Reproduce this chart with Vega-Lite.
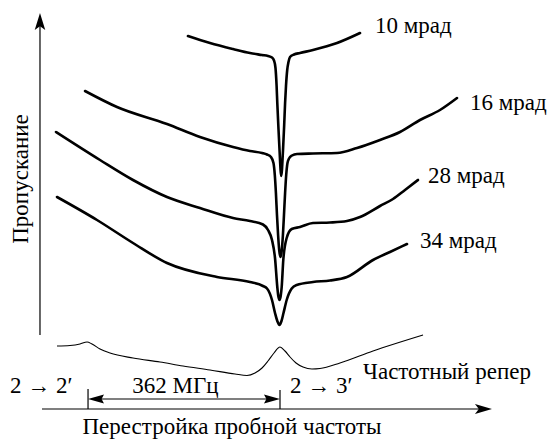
{
  "$schema": "https://vega.github.io/schema/vega-lite/v6.json",
  "width": 560,
  "height": 439,
  "padding": 0,
  "autosize": {"type": "none"},
  "background": "white",
  "config": {"view": {"stroke": null}},
  "datasets": {
    "curves": [
      {"series": "10 мрад", "f": 188.5, "T": 91},
      {"series": "10 мрад", "f": 230.0, "T": 89.25},
      {"series": "10 мрад", "f": 273.4, "T": 87.75},
      {"series": "10 мрад", "f": 305.4, "T": 86.75},
      {"series": "10 мрад", "f": 328.1, "T": 86.25},
      {"series": "10 мрад", "f": 339.4, "T": 86},
      {"series": "10 мрад", "f": 346.9, "T": 85.625},
      {"series": "10 мрад", "f": 350.7, "T": 84.875},
      {"series": "10 мрад", "f": 353.5, "T": 83},
      {"series": "10 мрад", "f": 355.6, "T": 78.5},
      {"series": "10 мрад", "f": 356.9, "T": 74.25},
      {"series": "10 мрад", "f": 358.8, "T": 68.75},
      {"series": "10 мрад", "f": 361.1, "T": 62.5},
      {"series": "10 мрад", "f": 364.3, "T": 56},
      {"series": "10 мрад", "f": 367.7, "T": 62.5},
      {"series": "10 мрад", "f": 369.9, "T": 68.75},
      {"series": "10 мрад", "f": 371.6, "T": 74.25},
      {"series": "10 мрад", "f": 373.3, "T": 78.5},
      {"series": "10 мрад", "f": 375.6, "T": 82.5},
      {"series": "10 мрад", "f": 378.0, "T": 84.5},
      {"series": "10 мрад", "f": 380.9, "T": 85.75},
      {"series": "10 мрад", "f": 388.4, "T": 86.375},
      {"series": "10 мрад", "f": 399.7, "T": 86.75},
      {"series": "10 мрад", "f": 424.2, "T": 87.5},
      {"series": "10 мрад", "f": 469.5, "T": 89.25},
      {"series": "10 мрад", "f": 512.9, "T": 91.75},

      {"series": "16 мрад", "f": -5.7, "T": 77.25},
      {"series": "16 мрад", "f": 54.6, "T": 73.25},
      {"series": "16 мрад", "f": 148.9, "T": 69},
      {"series": "16 мрад", "f": 211.1, "T": 65.75},
      {"series": "16 мрад", "f": 273.4, "T": 63.25},
      {"series": "16 мрад", "f": 305.4, "T": 62.25},
      {"series": "16 мрад", "f": 328.1, "T": 61.75},
      {"series": "16 мрад", "f": 337.5, "T": 61.375},
      {"series": "16 мрад", "f": 345.0, "T": 60.75},
      {"series": "16 мрад", "f": 349.7, "T": 59.25},
      {"series": "16 мрад", "f": 352.2, "T": 56.25},
      {"series": "16 мрад", "f": 354.3, "T": 51.75},
      {"series": "16 мрад", "f": 356.3, "T": 46.25},
      {"series": "16 мрад", "f": 358.4, "T": 41.25},
      {"series": "16 мрад", "f": 360.5, "T": 37.5},
      {"series": "16 мрад", "f": 362.9, "T": 35.75},
      {"series": "16 мрад", "f": 365.4, "T": 37.5},
      {"series": "16 мрад", "f": 367.5, "T": 41.25},
      {"series": "16 мрад", "f": 369.5, "T": 46.25},
      {"series": "16 мрад", "f": 371.6, "T": 51.75},
      {"series": "16 мрад", "f": 373.7, "T": 56.25},
      {"series": "16 мрад", "f": 376.1, "T": 59.25},
      {"series": "16 мрад", "f": 379.0, "T": 60.375},
      {"series": "16 мрад", "f": 384.6, "T": 61.125},
      {"series": "16 мрад", "f": 394.1, "T": 61.5},
      {"series": "16 мрад", "f": 424.2, "T": 61.625},
      {"series": "16 мрад", "f": 469.5, "T": 61.75},
      {"series": "16 мрад", "f": 507.2, "T": 63},
      {"series": "16 мрад", "f": 550.6, "T": 65},
      {"series": "16 мрад", "f": 588.3, "T": 67},
      {"series": "16 мрад", "f": 626.0, "T": 70},
      {"series": "16 мрад", "f": 663.7, "T": 72.5},
      {"series": "16 мрад", "f": 695.8, "T": 75.5},

      {"series": "28 мрад", "f": -60.4, "T": 67},
      {"series": "28 мрад", "f": 22.6, "T": 60},
      {"series": "28 мрад", "f": 84.8, "T": 55},
      {"series": "28 мрад", "f": 148.9, "T": 50.75},
      {"series": "28 мрад", "f": 211.1, "T": 48},
      {"series": "28 мрад", "f": 273.4, "T": 45.5},
      {"series": "28 мрад", "f": 305.4, "T": 44.75},
      {"series": "28 мрад", "f": 329.9, "T": 43.875},
      {"series": "28 мрад", "f": 339.4, "T": 42.5},
      {"series": "28 мрад", "f": 346.9, "T": 40},
      {"series": "28 мрад", "f": 352.6, "T": 35.5},
      {"series": "28 мрад", "f": 356.9, "T": 28.25},
      {"series": "28 мрад", "f": 358.8, "T": 26},
      {"series": "28 мрад", "f": 361.1, "T": 25},
      {"series": "28 мрад", "f": 363.3, "T": 26},
      {"series": "28 мрад", "f": 365.2, "T": 28.25},
      {"series": "28 мрад", "f": 368.2, "T": 35},
      {"series": "28 мрад", "f": 374.6, "T": 40.5},
      {"series": "28 мрад", "f": 384.1, "T": 42.75},
      {"series": "28 мрад", "f": 399.7, "T": 43.25},
      {"series": "28 мрад", "f": 424.2, "T": 44.25},
      {"series": "28 мрад", "f": 456.3, "T": 44.375},
      {"series": "28 мрад", "f": 488.3, "T": 44.75},
      {"series": "28 мрад", "f": 512.9, "T": 45.75},
      {"series": "28 мрад", "f": 550.6, "T": 48.5},
      {"series": "28 мрад", "f": 575.1, "T": 50.25},
      {"series": "28 мрад", "f": 597.7, "T": 52.5},
      {"series": "28 мрад", "f": 622.2, "T": 55},

      {"series": "34 мрад", "f": -58.5, "T": 50.75},
      {"series": "34 мрад", "f": 16.9, "T": 45},
      {"series": "34 мрад", "f": 84.8, "T": 39.25},
      {"series": "34 мрад", "f": 148.9, "T": 34.25},
      {"series": "34 мрад", "f": 243.2, "T": 30.75},
      {"series": "34 мрад", "f": 305.4, "T": 29.5},
      {"series": "34 мрад", "f": 329.9, "T": 28.5},
      {"series": "34 мрад", "f": 337.5, "T": 27.875},
      {"series": "34 мрад", "f": 346.9, "T": 25},
      {"series": "34 мрад", "f": 352.6, "T": 21.75},
      {"series": "34 мрад", "f": 356.9, "T": 19.75},
      {"series": "34 мрад", "f": 360.9, "T": 18.75},
      {"series": "34 мрад", "f": 364.8, "T": 19.75},
      {"series": "34 мрад", "f": 368.6, "T": 21.75},
      {"series": "34 мрад", "f": 374.6, "T": 25},
      {"series": "34 мрад", "f": 384.1, "T": 27.875},
      {"series": "34 мрад", "f": 393.5, "T": 28.75},
      {"series": "34 мрад", "f": 424.2, "T": 29.5},
      {"series": "34 мрад", "f": 456.3, "T": 29.875},
      {"series": "34 мрад", "f": 488.3, "T": 30.75},
      {"series": "34 мрад", "f": 537.4, "T": 35},
      {"series": "34 мрад", "f": 569.4, "T": 37},
      {"series": "34 мрад", "f": 601.5, "T": 39},

      {"series": "репер", "f": -58.5, "T": 13.5},
      {"series": "репер", "f": -34.0, "T": 13.625},
      {"series": "репер", "f": -15.1, "T": 14},
      {"series": "репер", "f": -1.9, "T": 14.5},
      {"series": "репер", "f": 7.5, "T": 14},
      {"series": "репер", "f": 22.6, "T": 12.75},
      {"series": "репер", "f": 41.4, "T": 11.75},
      {"series": "репер", "f": 84.8, "T": 10.5},
      {"series": "репер", "f": 135.7, "T": 9.5},
      {"series": "репер", "f": 179.1, "T": 8.5},
      {"series": "репер", "f": 230.0, "T": 7.5},
      {"series": "репер", "f": 277.1, "T": 6.5},
      {"series": "репер", "f": 299.8, "T": 6.125},
      {"series": "репер", "f": 314.9, "T": 6.75},
      {"series": "репер", "f": 328.1, "T": 8},
      {"series": "репер", "f": 339.4, "T": 9.75},
      {"series": "репер", "f": 350.7, "T": 11.75},
      {"series": "репер", "f": 362.0, "T": 13.25},
      {"series": "репер", "f": 371.4, "T": 12.25},
      {"series": "репер", "f": 380.9, "T": 10.75},
      {"series": "репер", "f": 392.2, "T": 9.25},
      {"series": "репер", "f": 405.4, "T": 8.25},
      {"series": "репер", "f": 422.3, "T": 7.75},
      {"series": "репер", "f": 437.4, "T": 7.875},
      {"series": "репер", "f": 475.1, "T": 9.25},
      {"series": "репер", "f": 537.4, "T": 12.25},
      {"series": "репер", "f": 631.7, "T": 16.25}
    ],
    "segments": [
      {"part": "ось пропускания", "f": -90.6, "T": 16.25, "f2": -90.6, "T2": 94},
      {"part": "ось частоты", "f": -86.8, "T": -2.25, "f2": 740, "T2": -2.25},
      {"part": "метка 2-2'", "f": 0, "T": 2.75, "f2": 0, "T2": -2.25},
      {"part": "метка 2-3'", "f": 362, "T": 2.5, "f2": 362, "T2": -2.25},
      {"part": "интервал", "f": 10, "T": 0.25, "f2": 352, "T2": 0.25}
    ],
    "labels": [
      {"text": "10 мрад", "f": 541.1, "T": 91.75, "pos": "left"},
      {"text": "16 мрад", "f": 720.3, "T": 72.5, "pos": "left"},
      {"text": "28 мрад", "f": 641.1, "T": 54.25, "pos": "left"},
      {"text": "34 мрад", "f": 626.0, "T": 38, "pos": "left"},
      {"text": "Частотный репер", "f": 518.5, "T": 5.25, "pos": "left"},
      {"text": "2 → 2′", "f": -147.1, "T": 1.75, "pos": "left"},
      {"text": "2 → 3′", "f": 380.9, "T": 1.75, "pos": "left"},
      {"text": "362 МГц", "f": 164.9, "T": 1.75, "pos": "center"},
      {"text": "Перестройка пробной частоты", "f": 271.5, "T": -8.5, "pos": "center"}
    ]
  },
  "encoding": {
    "x": {"field": "f", "type": "quantitative", "scale": {"domain": [-166, 890], "nice": false, "zero": false}, "axis": null},
    "y": {"field": "T", "type": "quantitative", "scale": {"domain": [-9.75, 100], "nice": false, "zero": false}, "axis": null}
  },
  "layer": [
    {
      "data": {"name": "segments"},
      "mark": {"type": "rule", "color": "black", "strokeWidth": 1.2},
      "encoding": {
        "x2": {"field": "f2"},
        "y2": {"field": "T2"}
      }
    },
    {
      "data": {"values": [{"f": -90.6, "T": 94.625}]},
      "mark": {"type": "point", "shape": "M0,-1L0.62,1L0,0.55L-0.62,1Z", "size": 289, "filled": true, "color": "black", "opacity": 1}
    },
    {
      "data": {"values": [{"f": 745.7, "T": -2.25}]},
      "mark": {"type": "point", "shape": "M1,0L-1,0.6L-0.55,0L-1,-0.6Z", "size": 289, "filled": true, "color": "black", "opacity": 1}
    },
    {
      "data": {"values": [{"f": 15.0, "T": 0.25}]},
      "mark": {"type": "point", "shape": "M-1,0L1,0.55L0.7,0L1,-0.55Z", "size": 256, "filled": true, "color": "black", "opacity": 1}
    },
    {
      "data": {"values": [{"f": 346.9, "T": 0.25}]},
      "mark": {"type": "point", "shape": "M1,0L-1,0.55L-0.7,0L-1,-0.55Z", "size": 256, "filled": true, "color": "black", "opacity": 1}
    },
    {
      "data": {"name": "curves"},
      "transform": [{"filter": "datum.series === 'репер'"}],
      "mark": {"type": "line", "color": "black", "strokeWidth": 1.1, "interpolate": "monotone"},
      "encoding": {"detail": {"field": "series"}}
    },
    {
      "data": {"name": "curves"},
      "transform": [{"filter": "datum.series !== 'репер'"}],
      "mark": {"type": "line", "color": "black", "strokeWidth": 2.6, "interpolate": "monotone", "strokeCap": "round"},
      "encoding": {"detail": {"field": "series"}}
    },
    {
      "data": {"name": "labels"},
      "transform": [{"filter": "datum.pos === 'left'"}],
      "mark": {"type": "text", "font": "Liberation Serif", "fontSize": 23, "align": "left", "baseline": "alphabetic", "color": "black"},
      "encoding": {"text": {"field": "text"}}
    },
    {
      "data": {"name": "labels"},
      "transform": [{"filter": "datum.pos === 'center'"}],
      "mark": {"type": "text", "font": "Liberation Serif", "fontSize": 23, "align": "center", "baseline": "alphabetic", "color": "black"},
      "encoding": {"text": {"field": "text"}}
    },
    {
      "data": {"values": [{"text": "Пропускание", "f": -113.2, "T": 55.25}]},
      "mark": {"type": "text", "font": "Liberation Serif", "fontSize": 23, "align": "center", "baseline": "alphabetic", "angle": 270, "color": "black"},
      "encoding": {"text": {"field": "text"}}
    }
  ]
}
